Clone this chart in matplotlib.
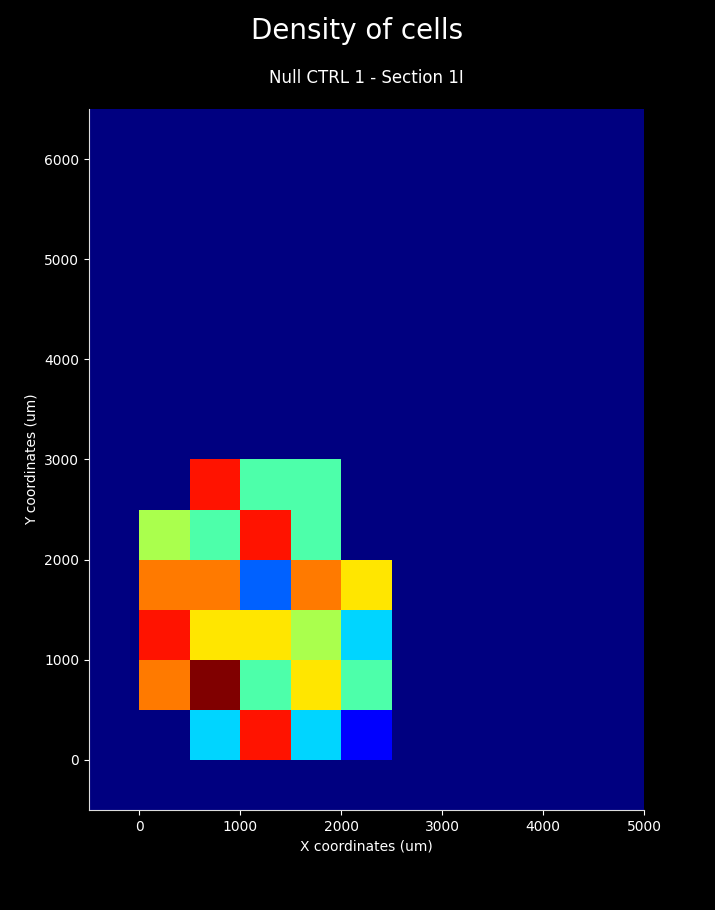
import numpy as np
import matplotlib
matplotlib.use("Agg")
import matplotlib.pyplot as plt

# bin edges (um)
x_edges = np.arange(-500, 5001, 500)
y_edges = np.arange(-500, 6501, 500)

# cell counts: (y_bin_low, x_bin_low, count)
cells_y = [2500, 2500, 2500,
           2000, 2000, 2000, 2000,
           1500, 1500, 1500, 1500, 1500,
           1000, 1000, 1000, 1000, 1000,
           500, 500, 500, 500, 500,
           0, 0, 0, 0]
cells_x = [500, 1000, 1500,
           0, 500, 1000, 1500,
           0, 500, 1000, 1500, 2000,
           0, 500, 1000, 1500, 2000,
           0, 500, 1000, 1500, 2000,
           500, 1000, 1500, 2000]
counts = [8, 4, 4,
          5, 4, 8, 4,
          7, 7, 2, 7, 6,
          8, 6, 6, 5, 3,
          7, 9, 4, 6, 4,
          3, 8, 3, 1]

grid = np.zeros((len(y_edges) - 1, len(x_edges) - 1))
for yv, xv, c in zip(cells_y, cells_x, counts):
    iy = int(np.searchsorted(y_edges, yv, side="right") - 1)
    ix = int(np.searchsorted(x_edges, xv, side="right") - 1)
    grid[iy, ix] = c

fig = plt.figure(figsize=(7.15, 9.1), dpi=100, facecolor="black")
ax = fig.add_axes([89/715, 1 - 810/910, (644 - 89)/715, (810 - 109)/910])
ax.set_facecolor("black")
ax.pcolormesh(x_edges, y_edges, grid, cmap="jet", vmin=0, vmax=max(counts))
ax.set_xlim(-500, 5000)
ax.set_ylim(-500, 6500)
ax.set_xticks([0, 1000, 2000, 3000, 4000, 5000])
ax.set_yticks([0, 1000, 2000, 3000, 4000, 5000, 6000])
for s in ["top", "right"]:
    ax.spines[s].set_visible(False)
for s in ["left", "bottom"]:
    ax.spines[s].set_color("#dddddd")
ax.tick_params(colors="white", labelsize=10)
ax.set_xlabel("X coordinates (um)", color="white", fontsize=10)
ax.set_ylabel("Y coordinates (um)", color="white", fontsize=10)
ax.set_title("Null CTRL 1 - Section 1I", color="white", fontsize=12, pad=19)
fig.suptitle("Density of cells", color="white", fontsize=20, y=1 - 31/910, va="center")
fig.savefig("out.png", dpi=100, facecolor="black")
